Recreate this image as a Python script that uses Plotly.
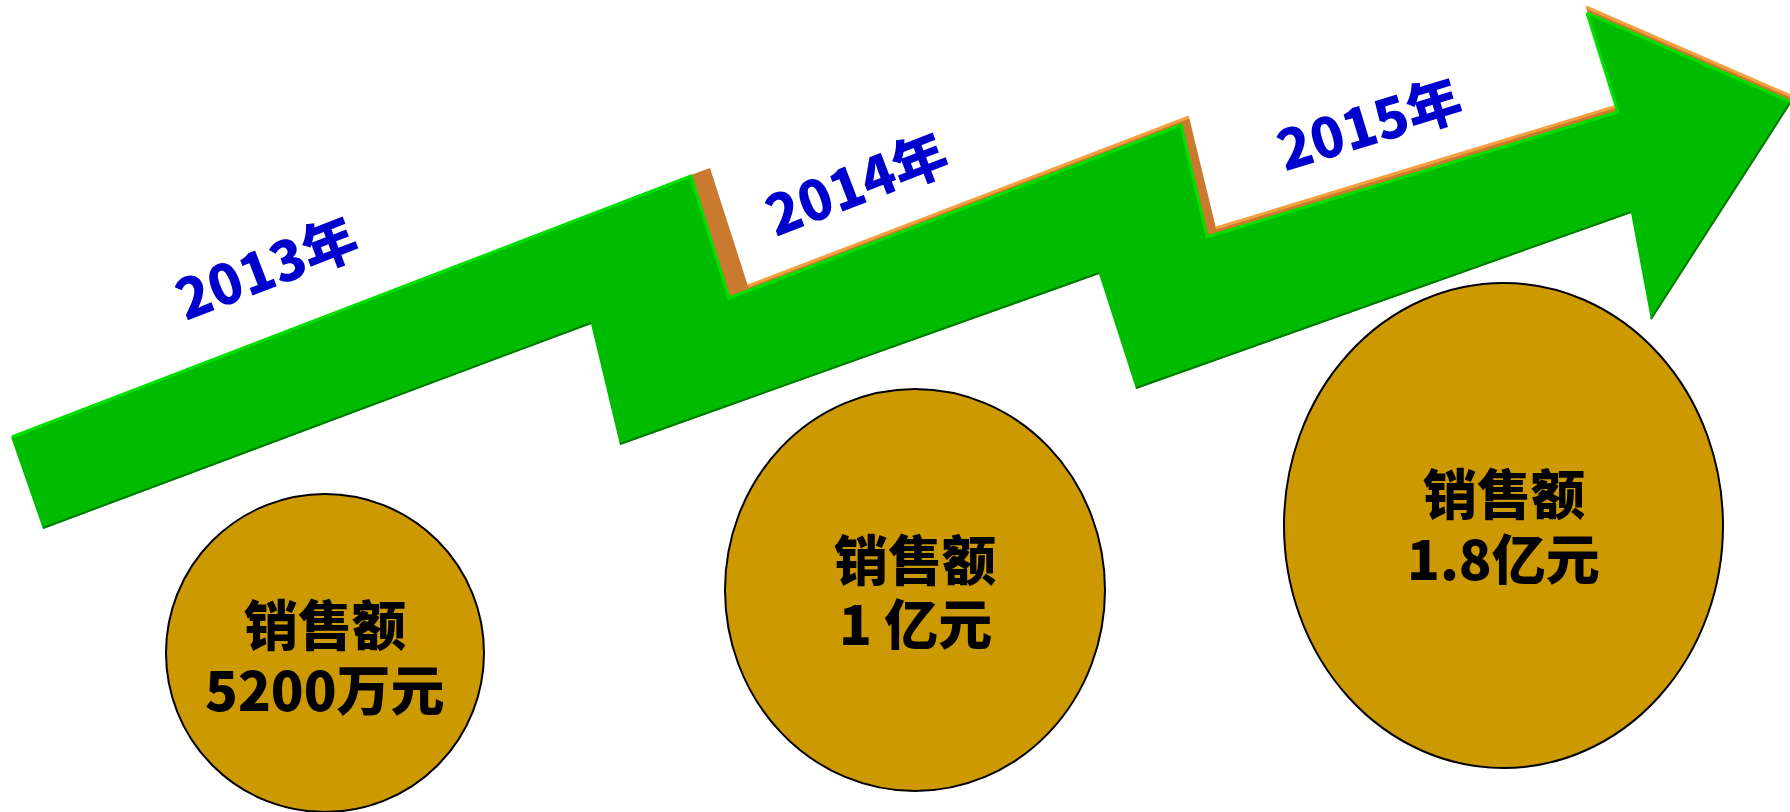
import plotly.graph_objects as go

# ---------------- data ----------------
years = ["2013年", "2014年", "2015年"]
sales_title = "销售额"
sales_labels = ["5200万元", "1 亿元", "1.8亿元"]

# ---------------- geometry (canvas pixel coordinates) ----------------
W, H = 1790, 812
arrow_x = [11, 691, 729, 1181, 1207, 1618, 1587, 1791, 1651, 1631, 1136, 1099, 620, 591, 43]
arrow_y = [437, 175, 298, 124, 237, 111, 12, 102, 320, 213, 389, 274, 445, 324, 529]
side_x = [691, 710, 748, 1189, 1216, 1617, 1586, 1794, 1640, 1150, 1100, 630, 610]
side_y = [175, 168, 286, 117, 228, 106, 7, 97, 200, 370, 265, 430, 300]
hi_x = [12, 691, 729, 1181, 1207, 1618, 1587, 1791]
hi_y = [437, 176, 298, 125, 237, 112, 13, 102]
orange_edges = [([748, 1189], [286, 117]), ([1216, 1617], [228, 106]), ([1586, 1793], [7, 97])]
shadow_edges = [([43, 591], [528, 323]), ([620, 1099], [444, 273]), ([1136, 1631], [388, 212]),
                ([1651, 1790], [319, 103])]
year_pos = [(265, 265, -21), (855, 181, -21), (1368, 121, -17)]
circles = [(325, 653, 159, 159), (915, 590, 190, 201), (1503.5, 525.5, 219.5, 242.5)]
title_y = [622, 557, 491.5]
value_y = [687, 621.5, 556]

GREEN = "#00BC00"
fig = go.Figure()
fig.add_trace(go.Scatter(x=side_x, y=side_y, fill="toself", fillcolor="#C97A2E",
                         mode="lines", line=dict(width=0), hoverinfo="skip"))
for ex, ey in orange_edges:
    fig.add_trace(go.Scatter(x=ex, y=ey, mode="lines", line=dict(color="#F4A040", width=3),
                             hoverinfo="skip"))
fig.add_trace(go.Scatter(x=arrow_x, y=arrow_y, fill="toself", fillcolor=GREEN,
                         mode="lines", line=dict(width=0), hoverinfo="skip"))
fig.add_trace(go.Scatter(x=hi_x, y=hi_y, mode="lines", line=dict(color="#00E000", width=3),
                         hoverinfo="skip"))
for ex, ey in shadow_edges:
    fig.add_trace(go.Scatter(x=ex, y=ey, mode="lines", line=dict(color="#007A00", width=2),
                             hoverinfo="skip"))

shapes = []
for cx, cy, rx, ry in circles:
    shapes.append(dict(type="circle", xref="x", yref="y", x0=cx - rx, x1=cx + rx,
                       y0=cy - ry, y1=cy + ry, fillcolor="#CC9900",
                       line=dict(color="black", width=2)))

ann = []
for yr, (x, y, a) in zip(years, year_pos):
    ann.append(dict(x=x, y=y, xref="x", yref="y", text=yr, showarrow=False,
                    textangle=a, font=dict(family="Noto Sans CJK SC", size=55, weight=900,
                                           color="#0000CC")))
for lab, (cx, cy, rx, ry), ty, vy in zip(sales_labels, circles, title_y, value_y):
    for txt, yy in ((sales_title, ty), (lab, vy)):
        ann.append(dict(x=cx, y=yy, xref="x", yref="y", text=txt, showarrow=False,
                        font=dict(family="Noto Sans CJK SC", size=54, weight=900,
                                  color="black")))

fig.update_layout(
    width=W, height=H, margin=dict(l=0, r=0, t=0, b=0),
    paper_bgcolor="white", plot_bgcolor="white", showlegend=False,
    xaxis=dict(range=[0, W], visible=False, fixedrange=True),
    yaxis=dict(range=[H, 0], visible=False, fixedrange=True),
    shapes=shapes, annotations=ann,
)
fig.write_html("out.html")
